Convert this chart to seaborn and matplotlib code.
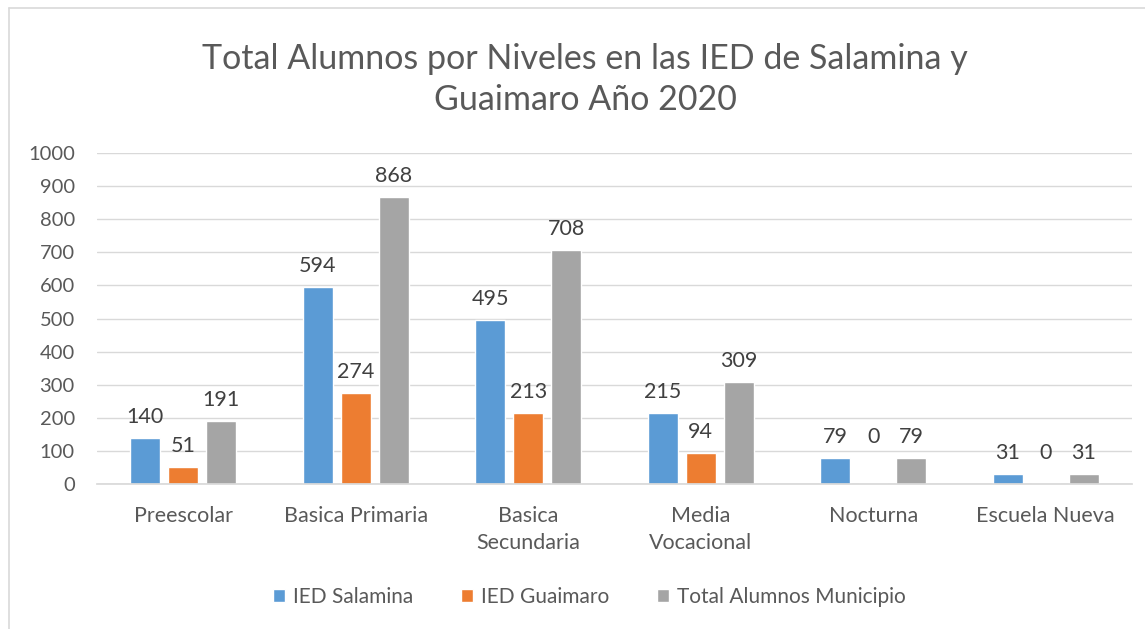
import matplotlib
matplotlib.use("Agg")
import matplotlib.pyplot as plt
import seaborn as sns
import pandas as pd
from matplotlib.lines import Line2D

categories = ["Preescolar", "Basica Primaria", "Basica\nSecundaria", "Media\nVocacional", "Nocturna", "Escuela Nueva"]
series_names = ["IED Salamina", "IED Guaimaro", "Total Alumnos Municipio"]
salamina = [140, 594, 495, 215, 79, 31]
guaimaro = [51, 274, 213, 94, 0, 0]
total = [191, 868, 708, 309, 79, 31]
yticks = [0, 100, 200, 300, 400, 500, 600, 700, 800, 900, 1000]
colors = ["#5b9bd5", "#ed7d31", "#a5a5a5"]
title = "Total Alumnos por Niveles en las IED de Salamina y\nGuaimaro Año 2020"

sns.set_theme(style="white")
plt.rcParams['font.family'] = ['Lato', 'DejaVu Sans']

rows = []
for s, vals in zip(series_names, [salamina, guaimaro, total]):
    for c, v in zip(categories, vals):
        rows.append({"Nivel": c, "Serie": s, "Valor": v})
df = pd.DataFrame(rows)

fig = plt.figure(figsize=(11.45, 6.29), dpi=100)
ax = fig.add_axes([97 / 1145, 1 - 484 / 629, 1035 / 1145, 331 / 629])

sns.barplot(data=df, x="Nivel", y="Valor", hue="Serie", palette=colors,
            width=0.66, gap=0.21, ax=ax, saturation=1, legend=True)

ax.set_ylim(0, 1000)
ax.set_xlim(-0.5, len(categories) - 0.5)
ax.set_yticks(yticks)
ax.set_yticklabels([str(t) for t in yticks])
ax.yaxis.grid(True, color="#d9d9d9", linewidth=1)
ax.set_axisbelow(True)
for sp in ["top", "right", "left"]:
    ax.spines[sp].set_visible(False)
ax.spines["bottom"].set_color("#d9d9d9")
ax.tick_params(axis="y", length=0, labelsize=14.5, labelcolor="#595959", pad=16)
ax.tick_params(axis="x", length=0, labelsize=15.5, labelcolor="#595959", pad=16)
for lab in ax.get_xticklabels():
    lab.set_linespacing(1.45)
ax.set_xlabel("")
ax.set_ylabel("")

# data labels
all_vals = [salamina, guaimaro, total]
for ci, container in enumerate(ax.containers):
    for j, bar in enumerate(container):
        v = all_vals[ci][j]
        x = bar.get_x() + bar.get_width() / 2
        y = v if v > 0 else all_vals[0][j]
        ax.annotate(str(v), (x, y), xytext=(0, 8), textcoords="offset points",
                    ha="center", va="bottom", fontsize=15.5, color="#404040")

leg = ax.legend(loc="center", bbox_to_anchor=(0.476, -0.341), ncol=3, frameon=False,
                fontsize=15, handlelength=0.55, handleheight=0.55, handletextpad=0.4,
                columnspacing=2.3)
for t in leg.get_texts():
    t.set_color("#595959")

fig.text(0.511, 0.874, title, ha="center", va="center", fontsize=24.5, color="#595959",
         linespacing=1.34)

fig.lines.append(Line2D([9 / 1145, 9 / 1145], [0, 1 - 8 / 629], transform=fig.transFigure,
                        color="#d9d9d9", linewidth=1.2))
fig.lines.append(Line2D([9 / 1145, 1], [1 - 8 / 629, 1 - 8 / 629], transform=fig.transFigure,
                        color="#d9d9d9", linewidth=1.2))

fig.savefig("out.png", dpi=100)
